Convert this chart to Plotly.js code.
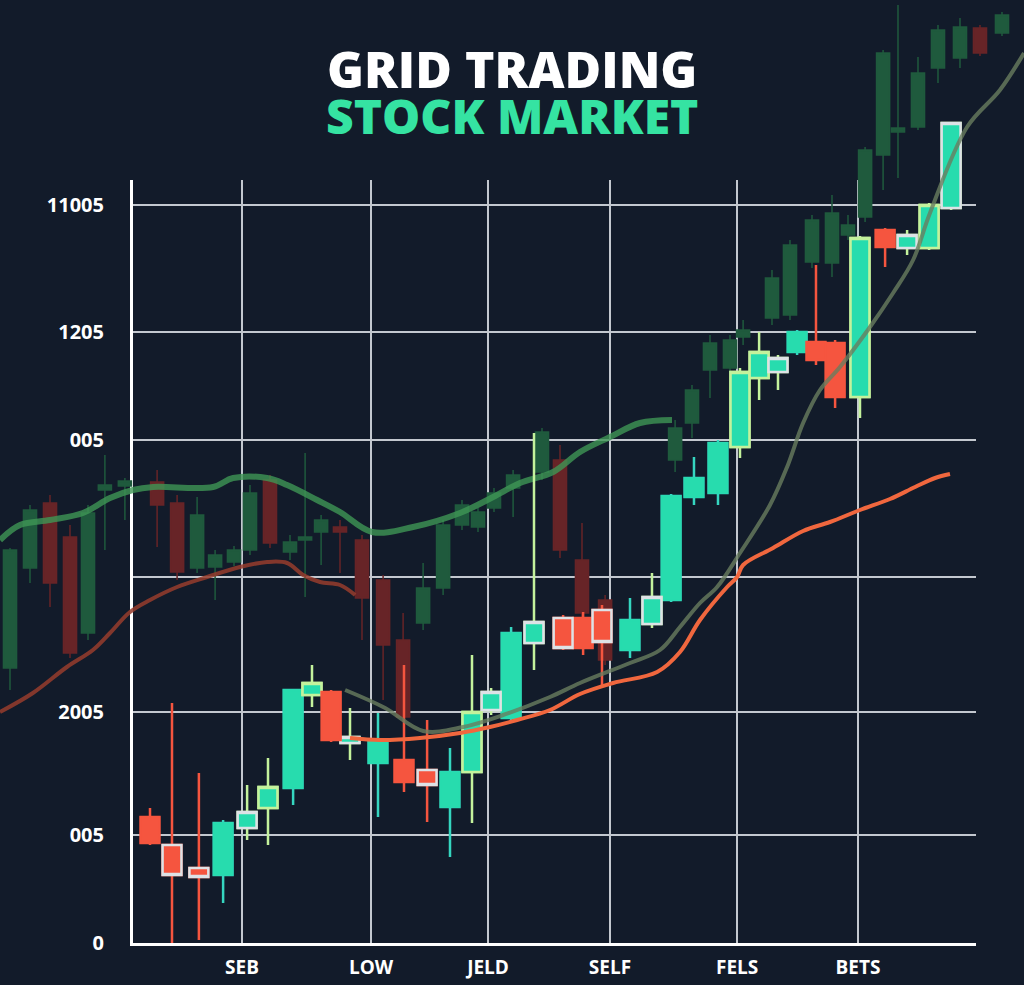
<!DOCTYPE html>
<html><head><meta charset="utf-8">
<script src="https://cdn.plot.ly/plotly-3.0.1.min.js"></script>
<style>html,body{margin:0;padding:0;background:#121b2a;}#chart{width:1024px;height:985px;}</style>
</head><body><div id="chart"></div>
<script>
// ---- axis ticks ----
const xTickVals = [4.14, 9.95, 15.21, 20.7, 26.42, 31.86];
const xTickText = ['SEB', 'LOW', 'JELD', 'SELF', 'FELS', 'BETS'];
const yTickVals = [0, 108, 231, 366, 503, 611, 738];
const yTickText = ['0', '005', '2005', '', '005', '1205', '11005'];

// ---- foreground (bright) candles ----
const fgX     = [0, 0.99, 2.2, 3.29, 4.37, 5.31, 6.44, 7.29, 8.15, 9.0, 10.26, 11.43, 12.47, 13.5, 14.49, 15.35, 16.25, 17.28, 18.59, 19.49, 20.34, 21.6, 22.59, 23.45, 24.48, 25.56, 26.55, 27.41, 28.26, 29.12, 29.97, 30.83, 31.95, 33.08, 34.07, 35.06, 36.05];
const fgOpen  = [126, 98, 75, 68, 115, 135, 155, 248, 251, 200, 180, 183, 173, 136, 171, 233, 225, 300, 325, 325, 333, 293, 319, 343, 446, 450, 496, 565, 571, 591, 601, 600, 546, 713, 695, 695, 735];
const fgHigh  = [135, 240, 170, 123, 158, 185, 253, 278, 253, 235, 230, 278, 223, 195, 288, 255, 316, 510, 328, 331, 338, 345, 370, 449, 486, 503, 575, 611, 588, 613, 678, 603, 707, 715, 713, 740, 820];
const fgLow   = [98, 0, 3, 40, 103, 98, 138, 236, 201, 183, 126, 151, 121, 86, 120, 228, 221, 273, 293, 288, 256, 285, 315, 341, 438, 438, 485, 543, 553, 588, 578, 535, 525, 676, 688, 693, 733];
const fgClose = [100, 68, 66, 120, 131, 156, 253, 260, 203, 206, 203, 161, 158, 171, 231, 251, 310, 321, 295, 295, 301, 323, 346, 447, 465, 500, 571, 591, 585, 611, 583, 546, 705, 696, 708, 738, 820];
const fgStyle = ['R', 'RW', 'RW', 'T', 'TW', 'TL', 'T', 'TL', 'R', 'TW', 'T', 'R', 'RW', 'T', 'TL', 'TW', 'T', 'TW', 'RW', 'R', 'RW', 'T', 'TW', 'T', 'T', 'T', 'TL', 'TL', 'TW', 'T', 'R', 'R', 'TL', 'R', 'TW', 'TL', 'TW'];

// ---- background (faded) candles ----
const bgX     = [-6.3, -5.4, -4.5, -3.6, -2.79, -2.03, -1.13, 0.32, 1.22, 2.12, 2.93, 3.78, 4.5, 5.4, 6.3, 6.98, 7.7, 8.55, 9.54, 10.49, 11.39, 12.29, 13.19, 14.04, 14.76, 15.48, 16.34, 17.64, 18.45, 19.44, 20.48, 23.63, 24.39, 25.2, 26.1, 26.69, 27.99, 28.8, 29.79, 30.69, 31.41, 32.18, 32.99, 33.66, 34.56, 35.46, 36.45, 37.35, 38.34];
const bgOpen  = [275, 375, 440, 406, 310, 453, 457, 461, 440, 375, 376, 381, 393, 463, 391, 403, 411, 416, 403, 363, 303, 320, 355, 418, 416, 435, 455, 471, 483, 383, 343, 483, 520, 573, 575, 606, 625, 628, 681, 680, 708, 726, 788, 811, 816, 875, 885, 915, 910];
const bgHigh  = [395, 438, 448, 418, 438, 488, 465, 473, 448, 446, 393, 397, 458, 468, 408, 490, 428, 423, 408, 368, 330, 380, 423, 443, 435, 455, 473, 515, 498, 420, 348, 523, 558, 608, 608, 623, 673, 703, 728, 748, 728, 796, 893, 938, 886, 918, 925, 918, 931];
const bgLow   = [253, 360, 336, 285, 303, 393, 423, 396, 363, 370, 343, 377, 388, 395, 383, 346, 378, 370, 303, 243, 221, 313, 348, 413, 411, 431, 426, 463, 385, 323, 278, 471, 505, 545, 543, 598, 618, 623, 675, 666, 703, 721, 753, 765, 813, 860, 875, 887, 907];
const bgClose = [393, 433, 360, 290, 430, 458, 462, 438, 371, 428, 388, 393, 450, 400, 401, 406, 423, 411, 345, 298, 226, 355, 418, 438, 431, 450, 468, 511, 393, 330, 283, 515, 553, 600, 603, 613, 665, 698, 723, 730, 718, 793, 890, 815, 870, 913, 916, 890, 928];

// ---- moving averages ----
const orangeX = [9.0, 10.35, 12.15, 13.95, 15.3, 16.52, 18.0, 19.35, 20.84, 22.82, 23.85, 24.75, 25.97, 26.42, 26.69, 28.04, 29.39, 30.6, 31.95, 33.3, 34.43, 35.33, 36.0];
const orangeY = [205, 203, 205, 210, 216, 223, 233, 249, 260, 271, 291, 323, 356, 366, 378, 395, 412, 421, 433, 444, 456, 465, 469];
const greyX = [8.78, 10.58, 12.29, 14.09, 15.89, 18.0, 19.35, 21.6, 22.95, 23.85, 24.75, 25.52, 26.55, 27.9, 28.67, 29.39, 30.15, 31.05, 32.4, 33.44, 34.34, 35.1, 36.77, 38.25, 39.33];
const greyY = [253, 235, 212, 216, 228, 246, 260, 280, 293, 316, 340, 356, 390, 438, 476, 520, 553, 576, 616, 650, 683, 730, 816, 853, 890];
const bgGreenX = [-6.75, -5.85, -4.5, -3.02, -1.8, -0.77, 0.14, 2.84, 3.74, 5.27, 6.17, 7.52, 8.55, 9.99, 11.84, 13.95, 15.44, 16.65, 18.14, 19.35, 20.7, 22.05, 23.49];
const bgGreenY = [403, 418, 423, 430, 445, 453, 456, 456, 465, 465, 458, 443, 431, 411, 416, 430, 446, 460, 471, 491, 506, 520, 523];
const bgRedX = [-6.75, -5.27, -3.74, -2.57, -1.8, -0.9, 0, 1.22, 2.57, 4.05, 5.27, 6.17, 6.89, 7.65, 8.55, 9.23];
const bgRedY = [231, 250, 276, 293, 310, 331, 343, 356, 366, 376, 381, 380, 368, 361, 358, 348];

// ---- colours ----
const TEAL = '#27dcae', RED = '#f5553f', LGREEN = '#c4f29c', WHITE = '#dde2e6';
const styles = {
  T:  {fill: TEAL, line: TEAL,   wick: '#35d6c0', w: 1.5},
  TL: {fill: TEAL, line: LGREEN, wick: LGREEN,    w: 2.5},
  TW: {fill: TEAL, line: WHITE,  wick: LGREEN,    w: 2.5},
  R:  {fill: RED,  line: RED,    wick: RED,       w: 1.5},
  RW: {fill: RED,  line: WHITE,  wick: RED,       w: 2.5}
};

const traces = [];

// empty trace so that the grid/axes subplot (x/y) is drawn
traces.push({type: 'scatter', mode: 'lines', x: [], y: [], xaxis: 'x', yaxis: 'y', hoverinfo: 'skip'});

// background candles (x2/y2)
traces.push({
  type: 'candlestick', x: bgX, open: bgOpen, high: bgHigh, low: bgLow, close: bgClose,
  xaxis: 'x2', yaxis: 'y2', hoverinfo: 'skip',
  increasing: {line: {color: '#1f5a3d', width: 1.5}, fillcolor: '#1f5a3d'},
  decreasing: {line: {color: '#672427', width: 1.5}, fillcolor: '#672427'}
});
traces.push({type: 'scatter', mode: 'lines', x: bgGreenX, y: bgGreenY, xaxis: 'x2', yaxis: 'y2',
  line: {color: 'rgba(62,150,85,0.8)', width: 6, shape: 'spline'}, hoverinfo: 'skip'});
traces.push({type: 'scatter', mode: 'lines', x: bgRedX, y: bgRedY, xaxis: 'x2', yaxis: 'y2',
  line: {color: 'rgba(150,60,45,0.85)', width: 4, shape: 'spline'}, hoverinfo: 'skip'});

// foreground candles (x3/y3): wick layer then body layer per style
function pick(arr, idx) { return idx.map(i => arr[i]); }
Object.keys(styles).forEach(key => {
  const s = styles[key];
  const idx = fgStyle.map((v, i) => v === key ? i : -1).filter(i => i >= 0);
  if (!idx.length) return;
  const o = pick(fgOpen, idx), c = pick(fgClose, idx);
  traces.push({
    type: 'candlestick', x: pick(fgX, idx), open: o, high: pick(fgHigh, idx), low: pick(fgLow, idx), close: c,
    xaxis: 'x3', yaxis: 'y3', hoverinfo: 'skip',
    increasing: {line: {color: s.wick, width: 2.5}, fillcolor: s.wick},
    decreasing: {line: {color: s.wick, width: 2.5}, fillcolor: s.wick}
  });
  traces.push({
    type: 'candlestick', x: pick(fgX, idx), open: o, close: c,
    high: o.map((v, k) => Math.max(v, c[k])), low: o.map((v, k) => Math.min(v, c[k])),
    xaxis: 'x3', yaxis: 'y3', hoverinfo: 'skip',
    increasing: {line: {color: s.line, width: s.w}, fillcolor: s.fill},
    decreasing: {line: {color: s.line, width: s.w}, fillcolor: s.fill}
  });
});

traces.push({type: 'scatter', mode: 'lines', x: greyX, y: greyY, xaxis: 'x3', yaxis: 'y3',
  line: {color: 'rgba(105,125,95,0.8)', width: 4, shape: 'spline'}, hoverinfo: 'skip'});
traces.push({type: 'scatter', mode: 'lines', x: orangeX, y: orangeY, xaxis: 'x3', yaxis: 'y3',
  line: {color: '#f0673e', width: 4, shape: 'spline'}, hoverinfo: 'skip'});

const W = 1024, H = 985;
const fullX = [-150 / 22.222, (W - 150) / 22.222];
const fullY = [943 - H, 943];
const hidden = {visible: false, fixedrange: true, rangeslider: {visible: false}};

const layout = {
  width: W, height: H,
  margin: {l: 0, r: 0, t: 0, b: 0},
  paper_bgcolor: '#121b2a', plot_bgcolor: 'rgba(0,0,0,0)',
  showlegend: false,
  boxgap: 0, boxgroupgap: 0,
  xaxis: {
    domain: [133 / W, 976 / W], range: [(133 - 150) / 22.222, (976 - 150) / 22.222],
    anchor: 'y', tickvals: xTickVals, ticktext: xTickText, ticks: '',
    showgrid: true, gridcolor: '#c3c8cf', gridwidth: 2, zeroline: false,
    showline: true, linecolor: '#ffffff', linewidth: 3,
    tickfont: {family: 'Open Sans', size: 19, color: '#ffffff', weight: 'bold'},
    ticklabelstandoff: 5, fixedrange: true, rangeslider: {visible: false}
  },
  yaxis: {
    domain: [(H - 943) / H, (H - 180) / H], range: [0, 763],
    anchor: 'x', tickvals: yTickVals, ticktext: yTickText, ticks: '',
    showgrid: true, gridcolor: '#c3c8cf', gridwidth: 2, zeroline: false,
    showline: true, linecolor: '#ffffff', linewidth: 3,
    tickfont: {family: 'Open Sans', size: 20, color: '#ffffff', weight: 'bold'},
    ticklabelstandoff: 22, fixedrange: true
  },
  xaxis2: Object.assign({domain: [0, 1], range: fullX, anchor: 'y2'}, hidden),
  yaxis2: {domain: [0, 1], range: fullY, anchor: 'x2', visible: false, fixedrange: true},
  xaxis3: Object.assign({overlaying: 'x2', range: fullX, anchor: 'y3'}, hidden),
  yaxis3: {overlaying: 'y2', range: fullY, anchor: 'x3', visible: false, fixedrange: true},
  annotations: [
    {text: '<span style="font-size:50px">GRID TRADING</span><br><span style="font-size:48px;color:#35e3a2">STOCK MARKET</span>',
     xref: 'paper', yref: 'paper', x: 0.5, y: 1 - 91 / H, xanchor: 'center', yanchor: 'middle', align: 'center',
     showarrow: false, font: {family: 'Open Sans', size: 35, color: '#ffffff', weight: 800}}
  ]
};

Plotly.newPlot('chart', traces, layout, {staticPlot: true, displayModeBar: false});
</script>
</body></html>
